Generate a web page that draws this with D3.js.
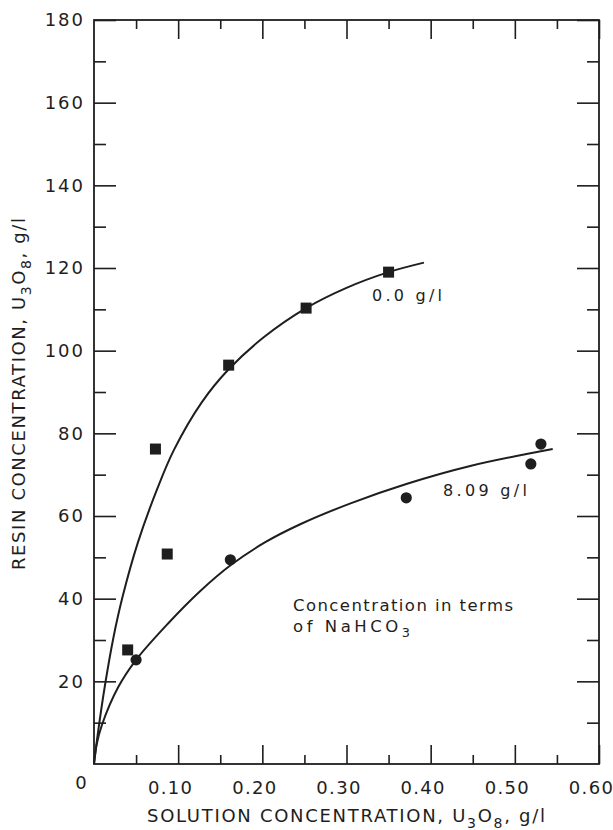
<!DOCTYPE html>
<html>
<head>
<meta charset="utf-8">
<script src="https://cdn.jsdelivr.net/npm/d3@7"></script>
<style>
  body { margin: 0; background: #fff; }
  svg { display: block; }
  text { font-family: "DejaVu Sans", sans-serif; fill: #1e1e1e; }
</style>
</head>
<body>
<script>
let width = 613, height = 830;
let margin = {top: 20, right: 14, bottom: 66, left: 94};
let ink = "#1e1e1e";

// ticks
let xMajor = [0.1, 0.2, 0.3, 0.4, 0.5, 0.6];
let xMinor = [0.05, 0.15, 0.25, 0.35, 0.45, 0.55];
let xTickLabels = ["0.10", "0.20", "0.30", "0.40", "0.50", "0.60"];
let yMajor = [20, 40, 60, 80, 100, 120, 140, 160, 180];
let yMinor = [10, 30, 50, 70, 90, 110, 130, 150, 170];
let yTickLabels = ["20", "40", "60", "80", "100", "120", "140", "160", "180"];

// 0.0 g/l NaHCO3 (squares)
let squareX = [0.040, 0.073, 0.087, 0.160, 0.252, 0.350];
let squareY = [27.6, 76.2, 50.8, 96.5, 110.3, 119.0];
// 8.09 g/l NaHCO3 (circles)
let circleX = [0.050, 0.162, 0.371, 0.519, 0.531];
let circleY = [25.2, 49.4, 64.4, 72.6, 77.4];

// hand drawn curves
let curve0X = [0, 0.005, 0.013, 0.023, 0.034, 0.052, 0.075, 0.095, 0.128, 0.160, 0.202, 0.252, 0.300, 0.350, 0.392];
let curve0Y = [0, 8, 19, 30.5, 40.5, 53.5, 66.5, 76, 87.5, 95.5, 103.3, 110.3, 115.2, 119, 121.3];
let curve8X = [0, 0.003, 0.0095, 0.0285, 0.050, 0.088, 0.126, 0.163, 0.203, 0.245, 0.304, 0.372, 0.447, 0.545];
let curve8Y = [0, 4.6, 9.5, 18.5, 25.2, 34, 41.8, 48.2, 53.6, 58, 63, 67.8, 72.1, 76.2];

let svg = d3.select("body").append("svg")
    .attr("width", width)
    .attr("height", height);

let x = d3.scaleLinear([0, 0.6], [margin.left, width - margin.right]);
let y = d3.scaleLinear([0, 180], [height - margin.bottom, margin.top]);

function styleTicks(g) {
    g.select(".domain").remove();
    g.selectAll(".tick line").attr("stroke", ink).attr("stroke-width", 1.6);
}

// bottom
svg.append("g")
    .attr("transform", `translate(0,${y(0)})`)
    .call(d3.axisBottom(x).tickValues(xMajor).tickSize(-19).tickPadding(17)
        .tickFormat((d, i) => xTickLabels[i]))
    .call(styleTicks)
    .call(g => g.selectAll("text")
        .attr("fill", ink)
        .attr("dx", -8)
        .style("font-size", "18px")
        .style("letter-spacing", "1.3px"));
svg.append("g")
    .attr("transform", `translate(0,${y(0)})`)
    .call(d3.axisBottom(x).tickValues(xMinor).tickSize(-9).tickFormat(""))
    .call(styleTicks);

// top
svg.append("g")
    .attr("transform", `translate(0,${y(180)})`)
    .call(d3.axisTop(x).tickValues(xMajor).tickSize(-19).tickFormat(""))
    .call(styleTicks);
svg.append("g")
    .attr("transform", `translate(0,${y(180)})`)
    .call(d3.axisTop(x).tickValues(xMinor).tickSize(-9).tickFormat(""))
    .call(styleTicks);

// left
svg.append("g")
    .attr("transform", `translate(${x(0)},0)`)
    .call(d3.axisLeft(y).tickValues(yMajor).tickSize(-22).tickPadding(9)
        .tickFormat((d, i) => yTickLabels[i]))
    .call(styleTicks)
    .call(g => g.selectAll("text")
        .attr("fill", ink)
        .style("font-size", "18px")
        .style("letter-spacing", "2px"));
svg.append("g")
    .attr("transform", `translate(${x(0)},0)`)
    .call(d3.axisLeft(y).tickValues(yMinor).tickSize(-12).tickFormat(""))
    .call(styleTicks);

// right
svg.append("g")
    .attr("transform", `translate(${x(0.6)},0)`)
    .call(d3.axisRight(y).tickValues(yMajor).tickSize(-22).tickFormat(""))
    .call(styleTicks);
svg.append("g")
    .attr("transform", `translate(${x(0.6)},0)`)
    .call(d3.axisRight(y).tickValues(yMinor).tickSize(-12).tickFormat(""))
    .call(styleTicks);

// frame
svg.append("rect")
    .attr("x", x(0))
    .attr("y", y(180))
    .attr("width", x(0.6) - x(0))
    .attr("height", y(0) - y(180))
    .attr("fill", "none")
    .attr("stroke", ink)
    .attr("stroke-width", 1.8);

// shared zero at the corner
svg.append("text")
    .attr("x", x(0) - 13)
    .attr("y", y(0) + 25)
    .attr("text-anchor", "middle")
    .style("font-size", "18px")
    .text("0");

// curves
let line = d3.line()
    .x(d => x(d[0]))
    .y(d => y(d[1]))
    .curve(d3.curveCatmullRom.alpha(0.5));

svg.append("path")
    .datum(d3.zip(curve0X, curve0Y))
    .attr("fill", "none")
    .attr("stroke", ink)
    .attr("stroke-width", 2)
    .attr("d", line);
svg.append("path")
    .datum(d3.zip(curve8X, curve8Y))
    .attr("fill", "none")
    .attr("stroke", ink)
    .attr("stroke-width", 2)
    .attr("d", line);

// markers
let sq = 11;
svg.append("g")
    .selectAll("rect")
    .data(d3.zip(squareX, squareY))
    .join("rect")
    .attr("x", d => x(d[0]) - sq / 2)
    .attr("y", d => y(d[1]) - sq / 2)
    .attr("width", sq)
    .attr("height", sq)
    .attr("fill", ink);
svg.append("g")
    .selectAll("circle")
    .data(d3.zip(circleX, circleY))
    .join("circle")
    .attr("cx", d => x(d[0]))
    .attr("cy", d => y(d[1]))
    .attr("r", 5.6)
    .attr("fill", ink);

// annotations
function label(px, py, size, len, parts) {
    let t = svg.append("text")
        .attr("x", px)
        .attr("y", py)
        .style("font-size", size + "px")
        .attr("textLength", len)
        .attr("lengthAdjust", "spacing");
    let shift = 0;
    for (const [str, sub] of parts) {
        let s = t.append("tspan").text(str);
        if (sub && shift === 0) { s.attr("dy", size * 0.32).style("font-size", (size * 0.78) + "px"); shift = 1; }
        else if (!sub && shift === 1) { s.attr("dy", -size * 0.32); shift = 0; }
    }
    return t;
}

label(372, 301, 16, 70, [["0.0 g/l"]]);
label(443, 496, 16, 84, [["8.09 g/l"]]);
label(293, 611, 16.5, 220, [["Concentration in terms"]]);
label(293, 632, 16.5, 117, [["of NaHCO"], ["3", true]]);

// axis titles
label(147, 822, 18, 398, [["SOLUTION CONCENTRATION, U"], ["3", true], ["O"], ["8", true], [", g/l"]]);

let yt = label(0, 0, 18, 352, [["RESIN CONCENTRATION, U"], ["3", true], ["O"], ["8", true], [", g/l"]]);
yt.attr("transform", "translate(25,570) rotate(-90)");
</script>
</body>
</html>
